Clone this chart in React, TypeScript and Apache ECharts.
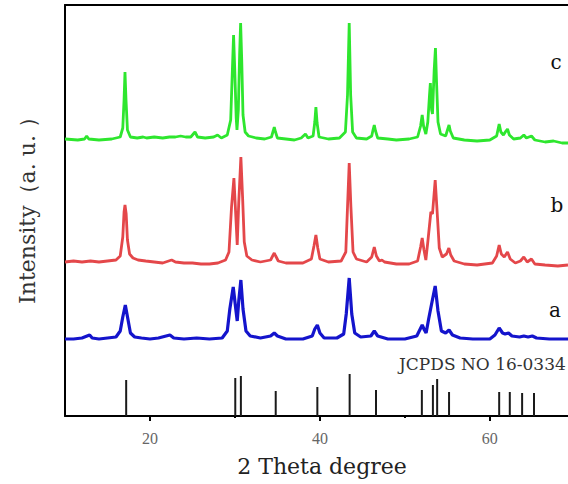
import React, { useEffect, useRef } from "react";
import * as echarts from "echarts";

// 2θ range shown
const xMin = 10;
const xMax = 69.2;

// tick values
const majorTicks = [20, 40, 60];
const minorTicks = [30, 50];

// vertical offsets (a.u.) of each pattern
const offsetA = 77;
const offsetB = 154;
const offsetC = 276;

// sample c (green): [2θ, intensity above baseline]
const cData: number[][] = [
  [10, 1], [11.5, 0], [12.3, 1], [12.55, 4], [12.8, 1], [14, 0], [15.5, 1], [16.5, 3], [16.8, 12], [16.95, 40],
  [17.06, 68], [17.18, 40], [17.35, 10], [17.7, 3], [18.5, 2], [19.2, 3], [19.6, 2], [20.5, 3], [21.5, 2], [22.3, 3],
  [23, 3], [23.6, 4], [24.2, 3], [24.8, 3], [25.3, 8], [25.6, 3], [26.5, 2], [27.5, 3], [27.96, 5], [28.4, 2],
  [29.1, 5], [29.5, 20], [29.7, 70], [29.84, 105], [29.98, 70], [30.15, 22], [30.24, 10], [30.4, 30], [30.55, 85], [30.67, 117],
  [30.8, 80], [30.95, 25], [31.2, 8], [31.6, 4], [32.5, 2], [33.5, 1], [34.3, 3], [34.5, 9], [34.63, 13], [34.78, 8],
  [35.0, 2], [36, 1], [37, 0], [37.8, 2], [38.3, 6], [38.6, 2], [39.2, 4], [39.4, 18], [39.53, 33], [39.67, 17],
  [39.9, 3], [41, 1], [42.3, 2], [43.0, 8], [43.25, 45], [43.45, 117], [43.62, 45], [43.85, 8], [44.3, 2], [45.5, 1],
  [46.1, 4], [46.25, 10], [46.4, 15], [46.55, 9], [46.8, 2], [48, 1], [49, 0], [50.5, 1], [51.5, 3], [51.85, 14],
  [52.04, 25], [52.2, 14], [52.47, 6], [52.7, 18], [52.9, 45], [53.0, 57], [53.15, 30], [53.25, 26], [53.45, 70], [53.6, 92],
  [53.72, 60], [53.9, 18], [54.2, 6], [54.8, 4], [55.05, 11], [55.2, 15], [55.35, 9], [55.7, 2], [57, 0], [58.5, -1],
  [60, 0], [60.8, 4], [61.0, 12], [61.1, 16], [61.3, 8], [61.6, 5], [61.9, 9], [62.08, 11], [62.3, 5], [62.8, 1],
  [63.6, 2], [64.0, 5], [64.3, 2], [64.9, 4], [65.3, 0], [66.5, -2], [67.5, -1], [68.5, -3], [69.2, -3],
];

// sample b (red)
const bData: number[][] = [
  [10, 0], [11, 1], [12, 0], [13, 1], [14, 0], [15, 1], [16, 2], [16.5, 6], [16.8, 25], [16.95, 50],
  [17.06, 57], [17.2, 48], [17.35, 22], [17.6, 8], [18, 4], [18.6, 2], [19.5, 1], [20.5, 0], [21.5, -1], [22.55, 2],
  [23, 0], [24, -1], [25, -1], [26, -2], [27, -2], [28, -1], [28.9, 2], [29.3, 10], [29.6, 55], [29.88, 84],
  [30.05, 55], [30.27, 17], [30.45, 60], [30.7, 105], [30.9, 65], [31.1, 20], [31.4, 6], [32, 2], [33, 0], [34.2, 2],
  [34.5, 7], [34.63, 9], [34.8, 6], [35.1, 1], [36, -1], [37, -1], [38, -1], [39.0, 3], [39.3, 16], [39.53, 27],
  [39.75, 14], [40.0, 3], [41, 0], [42.5, 1], [43.05, 10], [43.25, 55], [43.45, 99], [43.65, 55], [43.9, 10], [44.3, 3],
  [45.5, 0], [46.1, 5], [46.4, 15], [46.65, 6], [47, 1], [47.3, 2], [47.6, 0], [49, -2], [50.5, -2], [51.5, 1],
  [51.85, 15], [52.04, 24], [52.25, 12], [52.47, 2], [52.7, 20], [53.06, 50], [53.25, 48], [53.57, 82], [53.8, 50], [54.05, 14],
  [54.4, 5], [54.9, 8], [55.18, 14], [55.4, 7], [55.8, 1], [57, -2], [58.5, -3], [60.3, -1], [60.8, 6], [61.1, 17],
  [61.35, 8], [61.7, 5], [62.08, 10], [62.4, 3], [63, -1], [63.6, 1], [64.0, 5], [64.4, 0], [64.9, 3], [65.3, -2],
  [66.5, -3], [68, -4], [69.2, -3],
];

// sample a (blue)
const aData: number[][] = [
  [10, 0], [11, 0], [12, 1], [12.9, 4], [13.2, 1], [14, 0], [15, 1], [16, 2], [16.5, 8], [16.8, 22],
  [17.1, 34], [17.4, 20], [17.7, 6], [18.2, 2], [19, 1], [20, 0], [21, 1], [22.35, 4], [22.8, 1], [24, 0],
  [25.5, 1], [27, 0], [28.5, 1], [29.1, 8], [29.4, 30], [29.8, 52], [30.1, 30], [30.27, 18], [30.45, 38], [30.7, 59],
  [30.95, 30], [31.3, 8], [31.8, 3], [33, 1], [34.2, 3], [34.63, 6], [35.0, 3], [36, 0], [38, 0], [39.1, 3],
  [39.4, 10], [39.7, 14], [40.0, 6], [40.5, 1], [42, 1], [42.8, 5], [43.1, 25], [43.45, 61], [43.75, 25], [44.1, 6],
  [44.8, 2], [46.0, 3], [46.4, 8], [46.8, 3], [48, 0], [50, 0], [51.4, 3], [52.04, 14], [52.3, 9], [52.5, 6],
  [52.8, 20], [53.1, 33], [53.57, 53], [53.9, 28], [54.3, 8], [54.8, 6], [55.2, 9], [55.6, 4], [56.5, 1], [58, 0],
  [60, 0], [60.6, 4], [61.1, 11], [61.5, 6], [61.8, 5], [62.2, 6], [62.6, 3], [63.5, 2], [64.0, 3], [64.5, 2],
  [65.0, 3], [65.5, 1], [67, 0], [69.2, 0],
];

// JCPDS NO 16-0334 reference lines: [2θ, relative intensity]
const refPositions = [17.2, 30.04, 30.7, 34.8, 39.7, 43.5, 46.6, 52.0, 53.3, 53.8, 55.2, 61.1, 62.35, 63.8, 65.2];
const refHeights = [36, 38, 40, 25, 29, 42, 26, 26, 31, 37, 24, 24, 24, 23, 23];

const serif = "'DejaVu Serif', 'Liberation Serif', serif";

export default function App() {
  const ref = useRef<HTMLDivElement>(null);

  useEffect(() => {
    if (!ref.current) return;
    const chart = echarts.init(ref.current, undefined, { renderer: "svg" });
    const shift = (d: number[][], off: number) => d.map(([x, y]) => [x, y + off]);

    chart.setOption({
      animation: false,
      backgroundColor: "#ffffff",
      grid: { left: 65, right: 0, top: 5, bottom: 68 },
      xAxis: [
        {
          type: "value",
          min: xMin,
          max: xMax,
          position: "bottom",
          axisLine: { show: true, lineStyle: { color: "#000", width: 2 } },
          axisTick: { show: true, length: 5, customValues: majorTicks, lineStyle: { color: "#000", width: 2 } },
          axisLabel: {
            show: true,
            customValues: majorTicks,
            margin: 14,
            fontFamily: "'Liberation Serif', serif",
            fontSize: 16,
            color: "#666",
          },
          splitLine: { show: false },
        },
        {
          type: "value",
          min: xMin,
          max: xMax,
          position: "top",
          axisLine: { show: true, lineStyle: { color: "#000", width: 2 } },
          axisTick: { show: false },
          axisLabel: { show: false },
          splitLine: { show: false },
        },
        {
          type: "value",
          min: xMin,
          max: xMax,
          position: "bottom",
          axisLine: { show: false },
          axisTick: { show: true, length: 2, customValues: minorTicks, lineStyle: { color: "#000", width: 2 } },
          axisLabel: { show: false },
          splitLine: { show: false },
        },
      ],
      yAxis: {
        type: "value",
        min: 0,
        max: 411,
        axisLine: { show: true, lineStyle: { color: "#000", width: 2 } },
        axisTick: { show: false },
        axisLabel: { show: false },
        splitLine: { show: false },
      },
      series: [
        {
          type: "bar",
          name: "JCPDS",
          data: refPositions.map((p, i) => [p, refHeights[i]]),
          barWidth: 2,
          itemStyle: { color: "#1a1a1a" },
        },
        {
          type: "line",
          name: "a",
          data: shift(aData, offsetA),
          showSymbol: false,
          lineStyle: { color: "#1414cc", width: 3.2 },
        },
        {
          type: "line",
          name: "b",
          data: shift(bData, offsetB),
          showSymbol: false,
          lineStyle: { color: "#e4474a", width: 2.8 },
        },
        {
          type: "line",
          name: "c",
          data: shift(cData, offsetC),
          showSymbol: false,
          lineStyle: { color: "#2ee62e", width: 2.8 },
        },
      ],
      graphic: [
        {
          type: "text",
          x: 322,
          y: 466,
          style: {
            text: "2 Theta degree",
            fontFamily: serif,
            fontSize: 22,
            fill: "#222",
            align: "center",
            verticalAlign: "middle",
          },
        },
        {
          type: "text",
          x: 27,
          y: 205,
          rotation: Math.PI / 2,
          style: {
            text: "Intensity（a. u. ）",
            fontFamily: serif,
            fontSize: 22,
            fill: "#333",
            align: "center",
            verticalAlign: "middle",
          },
        },
        {
          type: "text",
          x: 399,
          y: 364,
          style: {
            text: "JCPDS NO 16-0334",
            fontFamily: serif,
            fontSize: 17,
            fill: "#333",
            align: "left",
            verticalAlign: "middle",
          },
        },
        {
          type: "text",
          x: 556,
          y: 62,
          style: { text: "c", fontFamily: serif, fontSize: 20, fill: "#111", align: "center", verticalAlign: "middle" },
        },
        {
          type: "text",
          x: 557,
          y: 205,
          style: { text: "b", fontFamily: serif, fontSize: 20, fill: "#111", align: "center", verticalAlign: "middle" },
        },
        {
          type: "text",
          x: 555,
          y: 310,
          style: { text: "a", fontFamily: serif, fontSize: 20, fill: "#111", align: "center", verticalAlign: "middle" },
        },
      ],
    });

    return () => chart.dispose();
  }, []);

  return (
    <div
      ref={ref}
      style={{ position: "fixed", left: 0, top: 0, width: 568, height: 484, background: "#fff" }}
    />
  );
}
